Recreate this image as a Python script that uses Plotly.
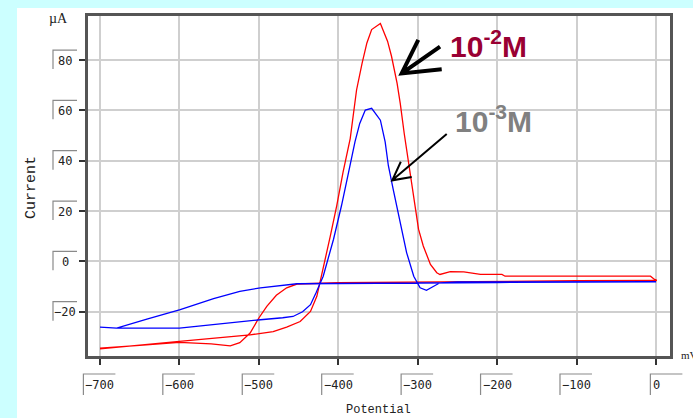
import plotly.graph_objects as go

# ---- data ----
red_x = [-700, -680, -650, -600, -557, -511, -482, -465, -448, -435, -427, -419, -410, -402, -394, -385,
         -377, -370, -364, -358, -347, -338, -333, -326, -322, -317, -310, -303, -299, -293, -284, -276,
         -272, -259, -242, -221, -194, -190, -100, -7, -3, 1,
         -100, -200, -300, -400, -452, -465, -478, -490, -500, -511, -524, -536, -560, -600, -650, -700]
red_y = [-34.8, -34.3, -33.3, -31.8, -30.6, -29.2, -27.9, -26.1, -23.9, -19.9, -13.9, -3.2, 10.1, 22.1, 35.5, 48.8,
         68.1, 78.8, 86.8, 92.1, 94.5, 87.5, 81.5, 70.8, 62.8, 50.8, 35.5, 22.1, 12.8, 6.1, -1.2, -4.5,
         -5.2, -4.1, -4.2, -5.2, -5.2, -5.9, -5.9, -5.9, -6.9, -7.6,
         -7.7, -7.9, -8.2, -8.5, -9.0, -10.5, -13.5, -17.9, -22.5, -28.5, -32.3, -33.6, -32.8, -32.2, -33.4, -34.5]

blue_x = [-700, -679, -600, -550, -498, -470, -457, -445, -435, -428, -419, -406, -396, -387, -379, -373,
          -366, -358, -347, -341, -337, -331, -322, -314, -305, -297, -289, -280, -272, -250, -100, 0,
          -100, -200, -300, -452, -498, -524, -557, -599, -641, -679, -700]
blue_y = [-26.1, -26.5, -26.5, -24.8, -23.2, -22.4, -21.9, -20.0, -17.2, -12.5, -5.9, 8.8, 22.1, 35.5, 47.5, 54.8,
          60.1, 60.8, 56.1, 47.5, 38.1, 28.8, 15.5, 3.5, -5.9, -10.5, -11.5, -9.8, -8.5, -8.2, -8.1, -8.1,
          -8.2, -8.4, -8.6, -8.9, -10.5, -11.9, -14.8, -19.2, -22.9, -26.5, -26.1]

x_ticks = [-700, -600, -500, -400, -300, -200, -100, 0]
y_ticks = [-20, 0, 20, 40, 60, 80]

# ---- geometry (pixels of the 693x418 page) ----
W, H = 693, 418
L, R, T, B = 88, 670, 16, 356
PW, PH = R - L, B - T
XR = [-715.1, 17.6]
YR = [-37.6, 97.5]

def px(x):
    return (x - L) / PW

def py(y):
    return (B - y) / PH

def xpix(v):
    return L + (v - XR[0]) / (XR[1] - XR[0]) * PW

def ypix(v):
    return B - (v - YR[0]) / (YR[1] - YR[0]) * PH

fig = go.Figure()
fig.add_trace(go.Scatter(x=red_x, y=red_y, mode="lines", line=dict(color="#FF0000", width=1.3),
                         showlegend=False, hoverinfo="skip"))
fig.add_trace(go.Scatter(x=blue_x, y=blue_y, mode="lines", line=dict(color="#0000FF", width=1.3),
                         showlegend=False, hoverinfo="skip"))

fig.update_xaxes(range=XR, tickvals=x_ticks, ticks="outside", ticklen=6, tickwidth=2,
                 tickcolor="#333333", showgrid=True, gridcolor="#CFCFCF", gridwidth=1.5,
                 showline=True, linecolor="#555555", linewidth=2.5, mirror=True, zeroline=False,
                 showticklabels=False)
fig.update_yaxes(range=YR, tickvals=y_ticks, ticks="outside", ticklen=6, tickwidth=2,
                 tickcolor="#333333", showgrid=True, gridcolor="#CFCFCF", gridwidth=1.5,
                 showline=True, linecolor="#555555", linewidth=2.5, mirror=True, zeroline=False,
                 showticklabels=False)

box = dict(color="#8A8A8A", width=1.2)
shapes = [
    dict(type="rect", xref="paper", yref="paper", x0=px(0), x1=px(17), y0=py(H), y1=py(0),
         fillcolor="#CCFFFF", line=dict(width=0), layer="below"),
    dict(type="rect", xref="paper", yref="paper", x0=px(0), x1=px(W), y0=py(8), y1=py(0),
         fillcolor="#CCFFFF", line=dict(width=0), layer="below"),
    # thick arrow to 10^-2 M curve
    dict(type="path", xref="x", yref="y",
         path="M -271.9,85.3 L -320.2,74.7 M -299.3,88.0 L -320.2,74.7 L -269.8,76.3",
         line=dict(color="black", width=4)),
    # thin arrow to 10^-3 M curve
    dict(type="path", xref="x", yref="y",
         path="M -263.5,50.6 L -332.1,32.2 M -321.3,39.6 L -332.1,32.2 L -307.6,33.5",
         line=dict(color="black", width=2)),
]

tickfont = dict(family="DejaVu Sans Mono", size=12, color="#222222")
ann = []
# x tick labels with sunken label boxes
for v in x_ticks:
    lab = "\u2212" + str(-v) if v < 0 else str(v)
    cx = xpix(v)
    left = cx - len(lab) * 3.65 - 2
    ann.append(dict(text=lab, xref="paper", yref="paper", x=px(cx), y=py(385), showarrow=False,
                    xanchor="center", yanchor="middle", font=tickfont))
    shapes.append(dict(type="path", xref="paper", yref="paper",
                       path=f"M {px(left)},{py(395)} L {px(left)},{py(374)} L {px(left + 32)},{py(374)}",
                       line=box))
# y tick labels with sunken label boxes
for v in y_ticks:
    lab = "\u2212" + str(-v) if v < 0 else str(v)
    cy = ypix(v)
    ann.append(dict(text=lab, xref="paper", yref="paper", x=px(65), y=py(cy + 0.5), showarrow=False,
                    xanchor="center", yanchor="middle", font=tickfont))
    shapes.append(dict(type="path", xref="paper", yref="paper",
                       path=f"M {px(53)},{py(cy + 9)} L {px(53)},{py(cy - 10)} L {px(77)},{py(cy - 10)}",
                       line=box))

ann += [
    dict(text="µA", xref="paper", yref="paper", x=px(58), y=py(18.5), showarrow=False,
         xanchor="center", yanchor="middle",
         font=dict(family="Liberation Serif", size=14, color="#222222")),
    dict(text="mV", xref="paper", yref="paper", x=px(679), y=py(355), xanchor="left", yanchor="middle",
         showarrow=False, font=dict(family="Liberation Serif", size=11, color="#222222")),
    dict(text="Current", xref="paper", yref="paper", x=px(31), y=py(188), textangle=-90, showarrow=False,
         xanchor="center", yanchor="middle",
         font=dict(family="Liberation Mono", size=15, color="#222222")),
    dict(text="Potential", xref="paper", yref="paper", x=px(378), y=py(410), showarrow=False,
         xanchor="center", yanchor="middle",
         font=dict(family="Liberation Mono", size=12, color="#222222")),
    dict(text="<b>10<sup>-2</sup>M</b>", xref="x", yref="y", x=-261.9, y=86.4, xanchor="left",
         yanchor="middle", showarrow=False,
         font=dict(family="Liberation Sans", size=30, color="#990033")),
    dict(text="<b>10<sup>-3</sup>M</b>", xref="x", yref="y", x=-255.6, y=56.6, xanchor="left",
         yanchor="middle", showarrow=False,
         font=dict(family="Liberation Sans", size=30, color="#808080")),
]

fig.update_layout(width=W, height=H, margin=dict(l=L, r=W - R, t=T, b=H - B, pad=0),
                  paper_bgcolor="white", plot_bgcolor="white", shapes=shapes, annotations=ann)

fig.write_html("out.html", config={"displayModeBar": False},
               post_script="document.body.style.margin='0';document.body.style.overflow='hidden';")
